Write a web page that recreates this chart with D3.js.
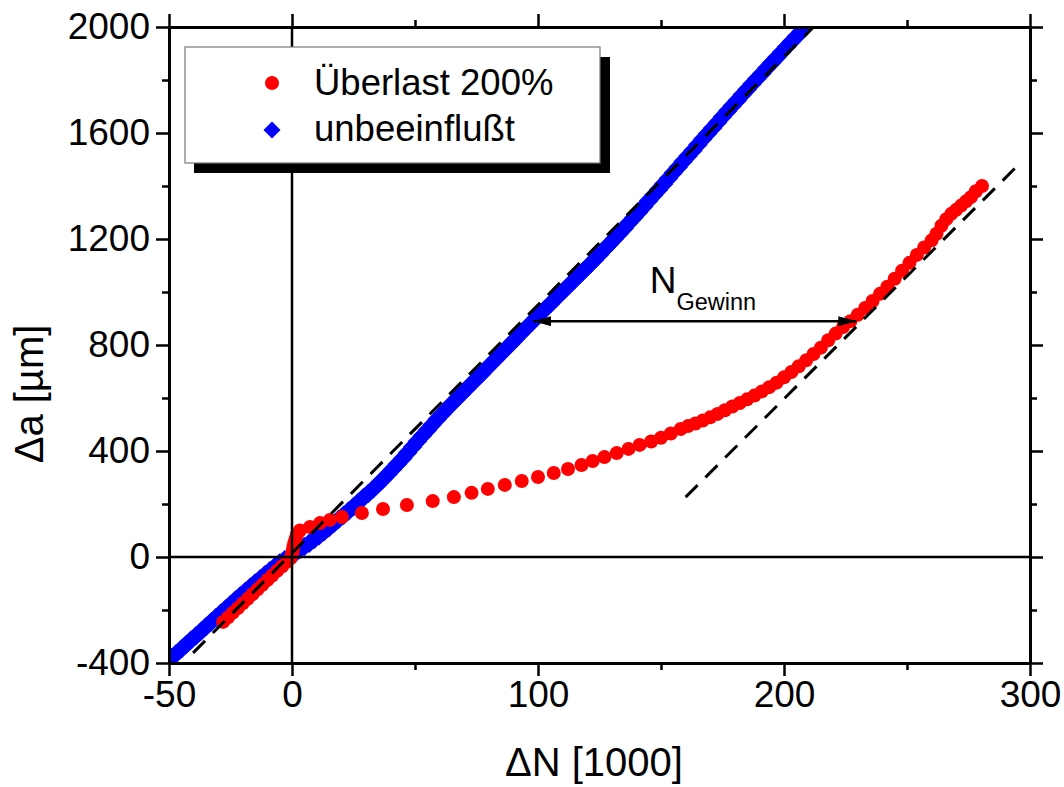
<!DOCTYPE html>
<html><head><meta charset="utf-8">
<script src="https://cdn.jsdelivr.net/npm/d3@7"></script>
<style>
body{margin:0;background:#fff;}
text{font-family:"Liberation Sans",Arial,sans-serif;fill:#000;}
</style></head>
<body><svg id="chart" width="1064" height="787"></svg>
<script>
// ---- data ----
const xMajorTicks = [-50, 0, 100, 200, 300];
const xMinorTicks = [50, 150, 250];
const yMajorTicks = [-400, 0, 400, 800, 1200, 1600, 2000];
const yMinorTicks = [-200, 200, 600, 1000, 1400, 1800];
const seriesNames = ["Überlast 200%", "unbeeinflußt"];

// unbeeinflußt (blue diamonds): [ΔN, Δa]
const blueSeries = [
[-49,-380],[-47,-364],[-45,-347],[-43,-330],[-41,-313],[-39,-297],[-37,-280],[-35,-263],[-33,-246],[-31,-229],
[-29,-212],[-27,-196],[-25,-179],[-23,-162],[-21,-146],[-19,-130],[-17,-114],[-15,-98],[-13,-83],[-11,-67],
[-9,-52],[-7,-37],[-5,-23],[-3,-10],[-1,2],[1,12],[3,27],[5,40],[7,52],[9,66],
[11,80],[13,95],[15,110],[17,126],[19,142],[21,158],[23,174],[25,190],[27,207],[29,224],
[31,240],[33,257],[35,275],[37,293],[39,312],[41,332],[43,352],[45,372],[47,393],[49,415],
[51,437],[53,458],[55,478],[57,499],[59,520],[61,540],[63,559],[65,578],[67,597],[69,616],
[71,635],[73,654],[75,673],[77,691],[79,710],[81,729],[83,748],[85,767],[87,786],[89,805],
[91,824],[93,843],[95,862],[97,881],[99,900],[101,918],[103,937],[105,955],[107,974],[109,992],
[111,1010],[113,1029],[115,1047],[117,1066],[119,1084],[121,1103],[123,1122],[125,1141],[127,1161],[129,1180],
[131,1200],[133,1220],[135,1240],[137,1261],[139,1281],[141,1302],[143,1323],[145,1344],[147,1365],[149,1386],
[151,1407],[153,1428],[155,1450],[157,1471],[159,1492],[161,1513],[163,1534],[165,1556],[167,1577],[169,1598],
[171,1619],[173,1640],[175,1661],[177,1682],[179,1703],[181,1723],[183,1744],[185,1764],[187,1785],[189,1805],
[191,1825],[193,1845],[195,1865],[197,1885],[199,1905],[201,1925],[203,1944],[205,1964],[207,1983],[209,2003],
[211,2022]
];

// Überlast 200% (red circles): [ΔN, Δa]
const redSeries = [
[-28,-245],[-26,-228],[-24,-210],[-22,-193],[-20,-175],[-18,-158],[-16,-140],[-14,-122],[-12,-105],[-10,-87],
[-8,-70],[-6,-52],[-4,-35],[-2,-18],[-0.5,-4],[0,10],[0.3,25],[0.6,40],[1,55],[1.5,70],
[2,85],[3.2,100],[7.3,113],[11.4,128],[15.4,140],[20.3,151],[28.4,166],[37,181],[46.7,196],[57.2,211],
[65.8,226],[73,242],[79.6,257],[86.5,272],[93.4,287],[100,302],[106.4,317],[112.2,332],[117.7,347],[122.2,362],
[127,377],[132,392],[136.8,408],[141.3,423],[146,436],[150,450],[154,466],[158,483],[161,494],[164,504],
[167,515],[170,527],[173,540],[176,554],[179,568],[182,581],[185,595],[188,609],[191,625],[194,641],
[197,658],[200,678],[203,698],[206,720],[209,742],[212,766],[215,790],[218,818],[221,843],[224,868],
[227,890],[230,914],[233,940],[236,966],[239,993],[242,1020],[245,1050],[248,1080],[251,1110],[254,1140],
[257,1168],[260,1195],[262,1220],[264,1250],[266,1275],[268,1295],[270,1310],[272,1326],[274,1342],[276,1358],
[278,1380],[280.5,1400]
];

// dashed fit lines: endpoints [ΔN, Δa]
const fitBlue = [[-40.2,-362],[212,2000]];
const fitRed = [[160,226],[294,1468]];
// N_Gewinn arrow endpoints
const gainArrow = [[98,890],[229.4,890]];
const gainLabelPos = [145.4, 996];

// ---- layout ----
const svg = d3.select("#chart");
const L = 169, R = 1030, T = 27, B = 663;
const x = d3.scaleLinear().domain([-50, 300]).range([L, R]);
const y = d3.scaleLinear().domain([-400, 2000]).range([B, T]);
const FONT = "Liberation Sans, Arial, sans-serif";

const defs = svg.append("defs");
defs.append("clipPath").attr("id","clip")
  .append("rect").attr("x",L).attr("y",T).attr("width",R-L).attr("height",B-T);

const plot = svg.append("g").attr("clip-path","url(#clip)");

// diamond = square rotated 45°
const diamondPath = d3.symbol().type(d3.symbolSquare).size(190)();

// blue diamonds
plot.append("g").selectAll("path").data(blueSeries).join("path")
  .attr("d", diamondPath)
  .attr("transform", d => `translate(${x(d[0])},${y(d[1])}) rotate(45)`)
  .attr("fill","#0000ff");

// red circles
plot.append("g").selectAll("circle").data(redSeries).join("circle")
  .attr("cx", d => x(d[0])).attr("cy", d => y(d[1])).attr("r", 7)
  .attr("fill","#ff0000");

// dashed fits
const line = d3.line().x(d => x(d[0])).y(d => y(d[1]));
[fitBlue, fitRed].forEach(f => {
  plot.append("path").attr("d", line(f)).attr("fill","none")
    .attr("stroke","#000").attr("stroke-width",3).attr("stroke-dasharray","17,11");
});

// zero lines
svg.append("line").attr("x1",x(0)).attr("x2",x(0)).attr("y1",T).attr("y2",B)
  .attr("stroke","#000").attr("stroke-width",2.5);
svg.append("line").attr("x1",L).attr("x2",R).attr("y1",y(0)).attr("y2",y(0))
  .attr("stroke","#000").attr("stroke-width",2.5);

// axes
const fmt = d => String(d);
function styleAxis(g){
  g.select(".domain").attr("stroke","#000").attr("stroke-width",3);
  g.selectAll(".tick line").attr("stroke","#000").attr("stroke-width",2.5);
  g.selectAll(".tick text").attr("font-family",FONT).attr("font-size",37).attr("fill","#000");
}
const majLen = 13, minLen = 7;
// bottom
svg.append("g").attr("transform",`translate(0,${B})`)
  .call(d3.axisBottom(x).tickValues(xMajorTicks).tickSize(majLen).tickSizeOuter(0).tickPadding(5).tickFormat(fmt))
  .call(styleAxis);
svg.append("g").attr("transform",`translate(0,${B})`)
  .call(d3.axisBottom(x).tickValues(xMinorTicks).tickSize(minLen).tickSizeOuter(0).tickFormat(""))
  .call(styleAxis);
// top
svg.append("g").attr("transform",`translate(0,${T})`)
  .call(d3.axisTop(x).tickValues(xMajorTicks).tickSize(majLen).tickSizeOuter(0).tickFormat(""))
  .call(styleAxis);
svg.append("g").attr("transform",`translate(0,${T})`)
  .call(d3.axisTop(x).tickValues(xMinorTicks).tickSize(minLen).tickSizeOuter(0).tickFormat(""))
  .call(styleAxis);
// left
svg.append("g").attr("transform",`translate(${L},0)`)
  .call(d3.axisLeft(y).tickValues(yMajorTicks).tickSize(majLen).tickSizeOuter(0).tickPadding(6).tickFormat(fmt))
  .call(styleAxis);
svg.append("g").attr("transform",`translate(${L},0)`)
  .call(d3.axisLeft(y).tickValues(yMinorTicks).tickSize(minLen).tickSizeOuter(0).tickFormat(""))
  .call(styleAxis);
// right
svg.append("g").attr("transform",`translate(${R},0)`)
  .call(d3.axisRight(y).tickValues(yMajorTicks).tickSize(majLen).tickSizeOuter(0).tickFormat(""))
  .call(styleAxis);
svg.append("g").attr("transform",`translate(${R},0)`)
  .call(d3.axisRight(y).tickValues(yMinorTicks).tickSize(minLen).tickSizeOuter(0).tickFormat(""))
  .call(styleAxis);

// axis titles
svg.append("text").attr("x", 594).attr("y", 776).attr("text-anchor","middle")
  .attr("font-family",FONT).attr("font-size",40).text("ΔN [1000]");
svg.append("text").attr("transform","translate(43,394) rotate(-90)").attr("text-anchor","middle")
  .attr("font-family",FONT).attr("font-size",40).text("Δa [µm]");

// arrow
defs.append("marker").attr("id","ah").attr("viewBox","0 0 18 10").attr("refX",18).attr("refY",5)
  .attr("markerWidth",18).attr("markerHeight",10).attr("markerUnits","userSpaceOnUse").attr("orient","auto-start-reverse")
  .append("path").attr("d","M0,0 L18,5 L0,10 Z").attr("fill","#000");
svg.append("line").attr("x1",x(gainArrow[0][0])).attr("y1",y(gainArrow[0][1]))
  .attr("x2",x(gainArrow[1][0])).attr("y2",y(gainArrow[1][1]))
  .attr("stroke","#000").attr("stroke-width",2.5)
  .attr("marker-start","url(#ah)").attr("marker-end","url(#ah)");
const lbl = svg.append("text").attr("x",x(gainLabelPos[0])).attr("y",y(gainLabelPos[1]))
  .attr("font-family",FONT).attr("font-size",37);
lbl.append("tspan").text("N");
lbl.append("tspan").attr("dy",17).attr("font-size",23.5).text("Gewinn");

// legend
const lg = svg.append("g");
lg.append("rect").attr("x",194).attr("y",57).attr("width",416).attr("height",116).attr("fill","#000");
lg.append("rect").attr("x",185).attr("y",47).attr("width",415).attr("height",116)
  .attr("fill","#fff").attr("stroke","#777").attr("stroke-width",1.2);
lg.append("circle").attr("cx",272).attr("cy",83).attr("r",7).attr("fill","#ff0000");
lg.append("path").attr("d", d3.symbol().type(d3.symbolSquare).size(144)()).attr("transform","translate(272,130) rotate(45)").attr("fill","#0000ff");
lg.append("text").attr("x",314).attr("y",95).attr("font-family",FONT).attr("font-size",36.5).text(seriesNames[0]);
lg.append("text").attr("x",314).attr("y",141).attr("font-family",FONT).attr("font-size",36.5).text(seriesNames[1]);
</script></body></html>
